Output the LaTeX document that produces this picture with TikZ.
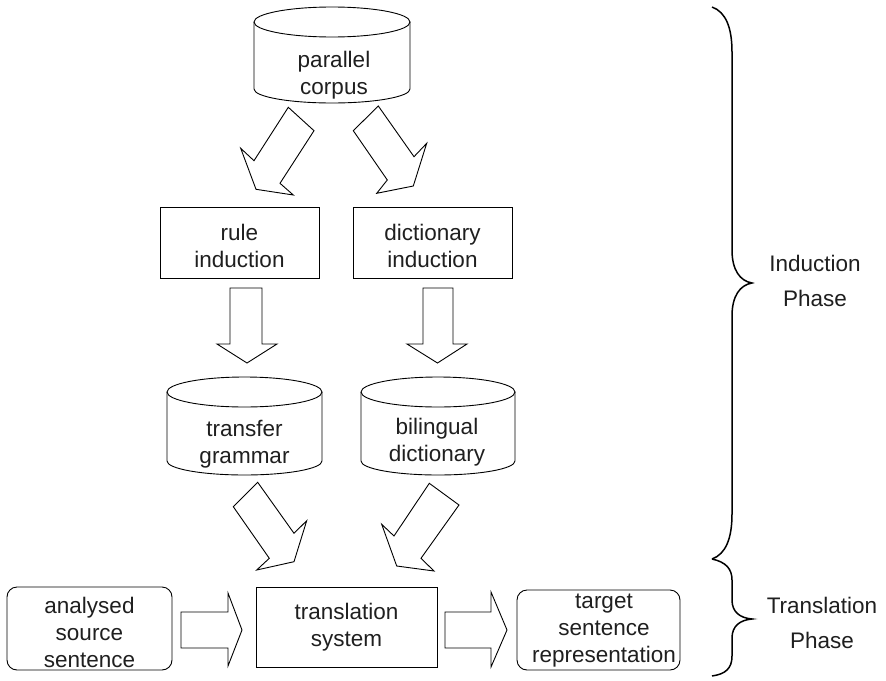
\documentclass[tikz,border=0pt]{standalone}
\usepackage{fontspec}
\setmainfont{Liberation Sans}
\begin{document}
\begin{tikzpicture}[x=1pt,y=-1pt,
  lbl/.style={align=center,inner sep=0pt,text=black!88,font=\fontsize{22.5}{27}\selectfont},
  boxs/.style={draw,line width=0.9pt},
  rbox/.style={draw,line width=0.9pt,rounded corners=10pt},
  blockarrow/.style={draw,line width=0.9pt,line join=miter,fill=white},
  cyl/.style={draw,line width=0.9pt},
  bracepath/.style={draw,line width=1.5pt}]
\useasboundingbox (0,0) rectangle (886,680);

% cylinders
\draw[cyl] (332,22) ellipse [x radius=78,y radius=15];
\draw[cyl] (254,22) -- (254,89) arc[start angle=180,end angle=0,x radius=78,y radius=14] -- (410,22);
\node[lbl] (corpus) at (334,75.5) {parallel\\corpus};

\draw[cyl] (244.5,392) ellipse [x radius=77.5,y radius=15];
\draw[cyl] (167,392) -- (167,461) arc[start angle=180,end angle=0,x radius=77.5,y radius=14] -- (322,392);
\node[lbl] (grammar) at (244.5,444) {transfer\\grammar};

\draw[cyl] (438,392) ellipse [x radius=77,y radius=15];
\draw[cyl] (361,392) -- (361,461) arc[start angle=180,end angle=0,x radius=77,y radius=14] -- (515,392);
\node[lbl] (bidict) at (437,442) {bilingual\\dictionary};

% boxes
\draw[boxs] (160,207) rectangle (319,278);
\node[lbl] (rule) at (239.5,245.5) {rule\\induction};
\draw[boxs] (353,207) rectangle (512,278);
\node[lbl] (dict) at (432.5,245.5) {dictionary\\induction};

\draw[rbox] (7,587) rectangle (172,670);
\node[lbl] (src) at (89.5,632) {analysed\\source\\sentence};
\draw[boxs] (256,587) rectangle (437,667);
\node[lbl] (trans) at (346.5,627) {translation\\system};
\draw[rbox] (517,590) rectangle (680,670);
\node[lbl] (tgt) at (604,631) {target\\sentence\\representation};

% block arrows: corpus -> rule / dict
\draw[blockarrow] (288.3,107.3) -- (314,130.7) -- (280,183.3) -- (293.3,195) -- (256,189.3) -- (240.7,148.3) -- (254,160.7) -- cycle;
\draw[blockarrow] (353.3,130.7) -- (378.3,106) -- (414,156.7) -- (426.7,143.3) -- (413.3,186) -- (376.7,193.3) -- (387.3,180) -- cycle;

% vertical arrows: rule -> grammar, dict -> bidict
\draw[blockarrow] (230,288) -- (262,288) -- (262,344) -- (277,344) -- (247,363) -- (217,344) -- (230,344) -- cycle;
\draw[blockarrow] (423,288) -- (453,288) -- (453,344) -- (467,344) -- (437.5,363) -- (407,344) -- (423,344) -- cycle;

% slanted arrows: grammar / bidict -> translation
\draw[blockarrow] (233.3,506.7) -- (257.7,482.3) -- (294,533.3) -- (306.7,520.7) -- (294,561.7) -- (256.7,570) -- (269.3,558.3) -- cycle;
\draw[blockarrow] (429.3,483.3) -- (459,505) -- (421,558.3) -- (434,571) -- (396.7,566) -- (381.7,524.3) -- (394,536) -- cycle;

% horizontal arrows
\draw[blockarrow] (181,612) -- (228,612) -- (228,593) -- (242,630) -- (228,666) -- (228,648) -- (181,648) -- cycle;
\draw[blockarrow] (445,612) -- (491,612) -- (491,592) -- (507,630) -- (491,667) -- (491,648) -- (445,648) -- cycle;

% braces
\draw[bracepath] (712,7) .. controls (726,12) and (732,28) .. (732,52) -- (732,250)
  .. controls (732,270) and (740,281) .. (752,283)
  .. controls (740,285) and (732,296) .. (732,316) -- (732,514)
  .. controls (732,538) and (726,554) .. (712,559);
\draw[bracepath] (712,559) .. controls (726,562) and (732,569) .. (732,580) -- (732,600)
  .. controls (732,612) and (740,618) .. (752,619)
  .. controls (740,620) and (732,626) .. (732,638) -- (732,656)
  .. controls (732,668) and (726,674) .. (712,676);

\node[lbl] (ind) at (815,280.5) {Induction\\[8pt]Phase};
\node[lbl] (tph) at (822,622.5) {Translation\\[8pt]Phase};
\end{tikzpicture}
\end{document}
